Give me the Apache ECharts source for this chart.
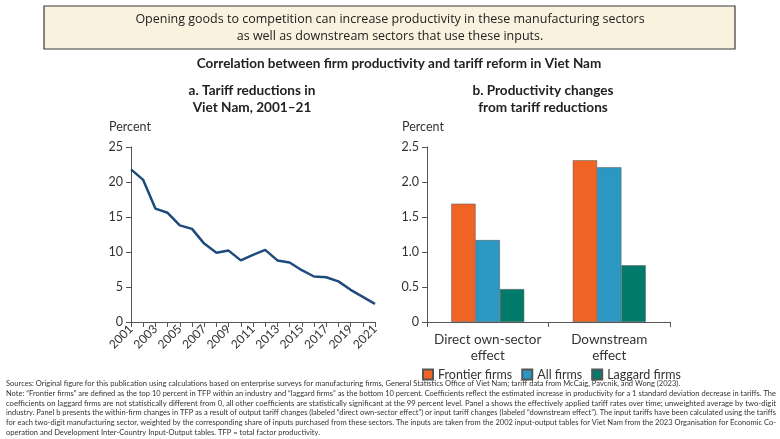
<!DOCTYPE html>
<html>
<head>
<meta charset="utf-8">
<script src="https://cdn.jsdelivr.net/npm/echarts@6/dist/echarts.min.js"></script>
<style>
  html, body { margin: 0; padding: 0; background: #fff; }
  #main { width: 780px; height: 439px; }
</style>
</head>
<body>
<div id="main"></div>
<script>
// panel a: tariff rates, percent
var years = ['2001','2002','2003','2004','2005','2006','2007','2008','2009','2010','2011',
             '2012','2013','2014','2015','2016','2017','2018','2019','2020','2021'];
var tariffRate = [21.8, 20.3, 16.2, 15.6, 13.8, 13.3, 11.2, 9.9, 10.2, 8.8, 9.6,
                  10.3, 8.8, 8.5, 7.4, 6.5, 6.4, 5.8, 4.6, 3.6, 2.6];

// panel b: productivity change, percent
var effects = ['Direct own-sector\neffect', 'Downstream\neffect'];
var frontierFirms = [1.69, 2.31];
var allFirms = [1.17, 2.21];
var laggardFirms = [0.47, 0.81];

var notes = [
  'Sources: Original figure for this publication using calculations based on enterprise surveys for manufacturing firms, General Statistics Office of Viet Nam; tariff data from McCaig, Pavcnik, and Wong (2023).',
  'Note: \u201cFrontier firms\u201d are defined as the top 10 percent in TFP within an industry and \u201claggard firms\u201d as the bottom 10 percent. Coefficients reflect the estimated increase in productivity for a 1 standard deviation decrease in tariffs. The',
  'coefficients on laggard firms are not statistically different from 0, all other coefficients are statistically significant at the 99 percent level. Panel a shows the effectively applied tariff rates over time; unweighted average by two-digit',
  'industry. Panel b presents the within-firm changes in TFP as a result of output tariff changes (labeled \u201cdirect own-sector effect\u201d) or input tariff changes (labeled \u201cdownstream effect\u201d). The input tariffs have been calculated using the tariffs',
  'for each two-digit manufacturing sector, weighted by the corresponding share of inputs purchased from these sectors. The inputs are taken from the 2002 input-output tables for Viet Nam from the 2023 Organisation for Economic Co-',
  'operation and Development Inter-Country Input-Output tables. TFP = total factor productivity.'
];

var FONT = 'Lato, "Open Sans", sans-serif';
var noteFont = '6.6px ' + FONT;

// measure the note lines so the justified ones fill the width
var ctx = document.createElement('canvas').getContext('2d');
ctx.font = noteFont;
var fullW = 770;
var scales = notes.map(function (t) { return fullW / ctx.measureText(t).width; });
var avgScale = (scales[1] + scales[2] + scales[3] + scales[4]) / 4;

var graphics = [
  {
    type: 'rect', shape: { x: 44, y: 6, width: 691, height: 43 },
    style: { fill: '#f8f2de', stroke: '#3a3a3a', lineWidth: 1.2 }
  },
  {
    type: 'text', x: 390, y: 19,
    style: { text: 'Opening goods to competition can increase productivity in these manufacturing sectors',
             font: '12.5px "Open Sans", sans-serif', fill: '#222', align: 'center', verticalAlign: 'middle' }
  },
  {
    type: 'text', x: 390, y: 36,
    style: { text: 'as well as downstream sectors that use these inputs.',
             font: '12.5px "Open Sans", sans-serif', fill: '#222', align: 'center', verticalAlign: 'middle' }
  },
  {
    type: 'text', x: 399, y: 64,
    style: { text: 'Correlation between firm productivity and tariff reform in Viet Nam',
             font: 'bold 13.5px ' + FONT, fill: '#222', align: 'center', verticalAlign: 'middle' }
  },
  {
    type: 'text', x: 252, y: 82,
    style: { text: 'a. Tariff reductions in\nViet Nam, 2001\u201321', lineHeight: 17,
             font: 'bold 13.6px ' + FONT, fill: '#222', align: 'center', verticalAlign: 'top' }
  },
  {
    type: 'text', x: 543, y: 82,
    style: { text: 'b. Productivity changes\nfrom tariff reductions', lineHeight: 17,
             font: 'bold 13.6px ' + FONT, fill: '#222', align: 'center', verticalAlign: 'top' }
  },
  {
    type: 'text', x: 109, y: 127,
    style: { text: 'Percent', font: '12.5px ' + FONT, fill: '#333', verticalAlign: 'middle' }
  },
  {
    type: 'text', x: 402, y: 127,
    style: { text: 'Percent', font: '12.5px ' + FONT, fill: '#333', verticalAlign: 'middle' }
  }
];

notes.forEach(function (t, i) {
  var justified = (i >= 1 && i <= 4);
  graphics.push({
    type: 'text', x: 6, y: 384 + i * 9.7,
    scaleX: justified ? scales[i] : avgScale,
    style: { text: t, font: noteFont, fill: '#333', verticalAlign: 'middle' }
  });
});

var myChart = echarts.init(document.getElementById('main'));

var axisCommon = {
  axisLine: { show: true, lineStyle: { color: '#555', width: 1 } },
  axisTick: { show: true, length: 5, lineStyle: { color: '#555' } },
  splitLine: { show: false },
  axisLabel: { color: '#333', fontSize: 12.5, fontFamily: FONT }
};

var option = {
  animation: false,
  textStyle: { fontFamily: FONT },
  graphic: graphics,
  grid: [
    { left: 131, top: 147, width: 244, height: 175 },
    { left: 427, top: 147, width: 243, height: 175 }
  ],
  xAxis: [
    {
      gridIndex: 0, type: 'category', data: years, boundaryGap: false,
      axisLine: axisCommon.axisLine,
      axisTick: { show: true, length: 5, interval: 0, lineStyle: { color: '#555' } },
      axisLabel: { interval: 1, rotate: 45, color: '#333', fontSize: 12, fontFamily: FONT, margin: 5 }
    },
    {
      gridIndex: 1, type: 'category', data: effects,
      axisLine: axisCommon.axisLine,
      axisTick: { show: true, length: 5, lineStyle: { color: '#555' } },
      axisLabel: { interval: 0, color: '#333', fontSize: 13.5, lineHeight: 16, fontFamily: FONT, margin: 10 }
    }
  ],
  yAxis: [
    Object.assign({ gridIndex: 0, type: 'value', min: 0, max: 25, interval: 5 }, axisCommon),
    Object.assign({ gridIndex: 1, type: 'value', min: 0, max: 2.5, interval: 0.5 }, axisCommon, {
      axisLabel: {
        color: '#333', fontSize: 12.5, fontFamily: FONT,
        formatter: function (v) { return v === 0 ? '0' : v.toFixed(1); }
      }
    })
  ],
  legend: {
    data: ['Frontier firms', 'All firms', 'Laggard firms'],
    left: 422, top: 368, padding: 0,
    itemWidth: 10, itemHeight: 10, itemGap: 9,
    icon: 'rect',
    textStyle: { fontSize: 12.5, color: '#333', fontFamily: FONT }
  },
  series: [
    {
      name: 'Tariff rate', type: 'line', xAxisIndex: 0, yAxisIndex: 0,
      data: tariffRate, symbol: 'none',
      lineStyle: { color: '#1f4b7c', width: 2.5 }
    },
    {
      name: 'Frontier firms', type: 'bar', xAxisIndex: 1, yAxisIndex: 1,
      data: frontierFirms, barGap: '0%', barCategoryGap: '40%',
      itemStyle: { color: '#ef6424', borderColor: '#555', borderWidth: 0.5 }
    },
    {
      name: 'All firms', type: 'bar', xAxisIndex: 1, yAxisIndex: 1,
      data: allFirms,
      itemStyle: { color: '#2b97c3', borderColor: '#555', borderWidth: 0.5 }
    },
    {
      name: 'Laggard firms', type: 'bar', xAxisIndex: 1, yAxisIndex: 1,
      data: laggardFirms,
      itemStyle: { color: '#017a6c', borderColor: '#555', borderWidth: 0.5 }
    }
  ]
};

myChart.setOption(option);
</script>
</body>
</html>
